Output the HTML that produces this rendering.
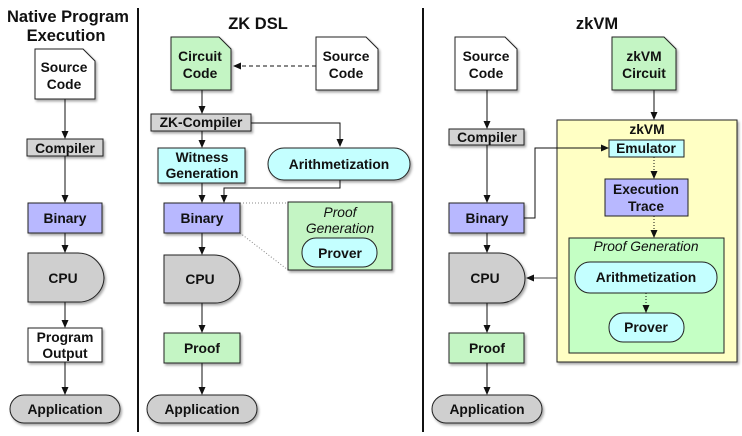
<!DOCTYPE html>
<html><head><meta charset="utf-8"><style>
html,body{margin:0;padding:0;background:#fff;}
svg{display:block;}
text{font-family:"Liberation Sans",Arial,sans-serif;font-weight:bold;font-size:13.8px;fill:#111;text-anchor:middle;}
.t{font-size:16.5px;}
.i{font-style:italic;font-weight:normal;}
.s{stroke:#222;stroke-width:1;}
</style></head><body>
<svg width="742" height="436" viewBox="0 0 742 436" xmlns="http://www.w3.org/2000/svg">
<defs>
<marker id="a" markerWidth="8" markerHeight="8" refX="7" refY="4" orient="auto" markerUnits="userSpaceOnUse"><path d="M0,0.5 L8,4 L0,7.5 z" fill="#111"/></marker>
<filter id="sh" x="-10%" y="-10%" width="130%" height="140%"><feDropShadow dx="1.5" dy="2" stdDeviation="1.2" flood-color="#000" flood-opacity="0.35"/></filter>
</defs>
<g fill="none" stroke="#111" stroke-width="1">
<line x1="65" y1="99" x2="65" y2="138" marker-end="url(#a)"/>
<line x1="65" y1="156" x2="65" y2="202" marker-end="url(#a)"/>
<line x1="65" y1="233" x2="65" y2="252" marker-end="url(#a)"/>
<line x1="65" y1="302" x2="65" y2="327" marker-end="url(#a)"/>
<line x1="65" y1="362" x2="65" y2="394" marker-end="url(#a)"/>
<line x1="316" y1="66" x2="234" y2="66" stroke-dasharray="4,3" marker-end="url(#a)"/>
<line x1="202" y1="90" x2="202" y2="113" marker-end="url(#a)"/>
<line x1="202" y1="131" x2="202" y2="147" marker-end="url(#a)"/>
<polyline points="251,123 340,123 340,146" marker-end="url(#a)"/>
<line x1="202" y1="183" x2="202" y2="202" marker-end="url(#a)"/>
<polyline points="340,180 340,188 224,188 224,202" marker-end="url(#a)"/>
<line x1="240" y1="203" x2="288" y2="203" stroke-dasharray="1,2" stroke="#888"/>
<line x1="240" y1="233" x2="288" y2="270" stroke-dasharray="1,2" stroke="#888"/>
<line x1="202" y1="233" x2="202" y2="254" marker-end="url(#a)"/>
<line x1="202" y1="303" x2="202" y2="332" marker-end="url(#a)"/>
<line x1="202" y1="363" x2="202" y2="394" marker-end="url(#a)"/>
<line x1="487" y1="90" x2="487" y2="128" marker-end="url(#a)"/>
<line x1="487" y1="145" x2="487" y2="202" marker-end="url(#a)"/>
<line x1="487" y1="233" x2="487" y2="252" marker-end="url(#a)"/>
<line x1="487" y1="303" x2="487" y2="332" marker-end="url(#a)"/>
<line x1="487" y1="363" x2="487" y2="394" marker-end="url(#a)"/>
<line x1="654" y1="90" x2="654" y2="119" marker-end="url(#a)"/>
</g>
<line x1="138" y1="8" x2="138" y2="432" stroke="#111" stroke-width="2"/>
<line x1="423" y1="8" x2="423" y2="432" stroke="#111" stroke-width="2"/>

<g class="s" filter="url(#sh)">
<path d="M35,49 H83 L95,61 V99 H35 Z" fill="#fff"/>
<rect x="27" y="139" width="76" height="17" fill="#d4d4d4"/>
<rect x="28" y="203" width="74" height="30" fill="#b8b8ff"/>
<path d="M28,253 H78 A26,26 0 0 1 104,279 V277 A25,25 0 0 1 79,302 H28 Z" fill="#cfcfcf"/>
<rect x="28" y="328" width="74" height="34" fill="#fff"/>
<rect x="10" y="395" width="110" height="28" rx="14" fill="#cfcfcf"/>
<path d="M171,37 H219 L231,49 V90 H171 Z" fill="#c4f5c4"/>
<path d="M316,37 H366 L378,49 V90 H316 Z" fill="#fff"/>
<rect x="151" y="114" width="100" height="17" fill="#d4d4d4"/>
<rect x="158" y="148" width="87" height="35" fill="#c4ffff"/>
<rect x="268" y="148" width="142" height="32" rx="16" fill="#c4ffff"/>
<rect x="164" y="203" width="76" height="30" fill="#b8b8ff"/>
<rect x="288" y="202" width="104" height="68" fill="#c4f5c4"/>
<path d="M164,255 H214 A26,26 0 0 1 240,280 V278 A25,25 0 0 1 215,303 H164 Z" fill="#cfcfcf"/>
<rect x="164" y="333" width="76" height="30" fill="#c4f5c4"/>
<rect x="147" y="395" width="110" height="28" rx="14" fill="#cfcfcf"/>
<path d="M455,37 H505 L517,49 V90 H455 Z" fill="#fff"/>
<path d="M612,37 H664 L676,49 V90 H612 Z" fill="#c4f5c4"/>
<rect x="449" y="129" width="75" height="16" fill="#d4d4d4"/>
<rect x="449" y="203" width="75" height="30" fill="#b8b8ff"/>
<path d="M449,253 H499 A26,26 0 0 1 525,278 V278 A25,25 0 0 1 500,303 H449 Z" fill="#cfcfcf"/>
<rect x="449" y="333" width="75" height="30" fill="#c4f5c4"/>
<rect x="432" y="395" width="110" height="28" rx="14" fill="#cfcfcf"/>
<rect x="557" y="120" width="180" height="242" fill="#ffffc4"/>
</g>
<g class="s">
<rect x="302" y="238" width="75" height="29" rx="14" fill="#c4ffff"/>
<rect x="609" y="140" width="75" height="17" fill="#c4ffff"/>
<rect x="605" y="179" width="83" height="37" fill="#b8b8ff"/>
<rect x="569" y="238" width="155" height="115" fill="#c4ffc4"/>
<rect x="575" y="262" width="142" height="31" rx="15" fill="#c4ffff"/>
<rect x="609" y="313" width="75" height="29" rx="14" fill="#c4ffff"/>
</g>
<g fill="none" stroke="#111" stroke-width="1">
<polyline points="524,218 535,218 535,148 608,148" marker-end="url(#a)"/>
<line x1="654" y1="157" x2="654" y2="178" stroke-dasharray="1,2" marker-end="url(#a)"/>
<line x1="654" y1="216" x2="654" y2="237" stroke-dasharray="1,2" marker-end="url(#a)"/>
<line x1="646" y1="293" x2="646" y2="312" stroke-dasharray="1,2" marker-end="url(#a)"/>
<line x1="557" y1="278" x2="527" y2="278" stroke="#444" marker-end="url(#a)"/>
</g>

<text class="t" x="68" y="22">Native Program</text>
<text class="t" x="66" y="41">Execution</text>
<text class="t" x="258" y="29">ZK DSL</text>
<text class="t" x="597" y="29">zkVM</text>

<text x="64" y="72">Source</text><text x="64" y="89">Code</text>
<text x="65" y="153">Compiler</text>
<text x="65" y="223">Binary</text>
<text x="63" y="283">CPU</text>
<text x="65" y="342">Program</text><text x="65" y="358">Output</text>
<text x="65" y="414">Application</text>

<text x="200" y="61">Circuit</text><text x="200" y="78">Code</text>
<text x="346" y="61">Source</text><text x="346" y="78">Code</text>
<text x="201" y="127">ZK-Compiler</text>
<text x="202" y="162">Witness</text><text x="202" y="178">Generation</text>
<text x="339" y="169">Arithmetization</text>
<text x="202" y="223">Binary</text>
<text class="i" x="340" y="217">Proof</text>
<text class="i" x="340" y="233">Generation</text>
<text x="340" y="258">Prover</text>
<text x="200" y="284">CPU</text>
<text x="202" y="353">Proof</text>
<text x="202" y="414">Application</text>

<text x="486" y="61">Source</text><text x="486" y="78">Code</text>
<text x="644" y="61">zkVM</text><text x="644" y="78">Circuit</text>
<text x="487" y="142">Compiler</text>
<text x="487" y="223">Binary</text>
<text x="485" y="283">CPU</text>
<text x="487" y="353">Proof</text>
<text x="487" y="414">Application</text>
<text x="647" y="134">zkVM</text>
<text x="646" y="153">Emulator</text>
<text x="646" y="194">Execution</text><text x="646" y="211">Trace</text>
<text class="i" x="646" y="251">Proof Generation</text>
<text x="646" y="282">Arithmetization</text>
<text x="646" y="332">Prover</text>
</svg>
</body></html>
